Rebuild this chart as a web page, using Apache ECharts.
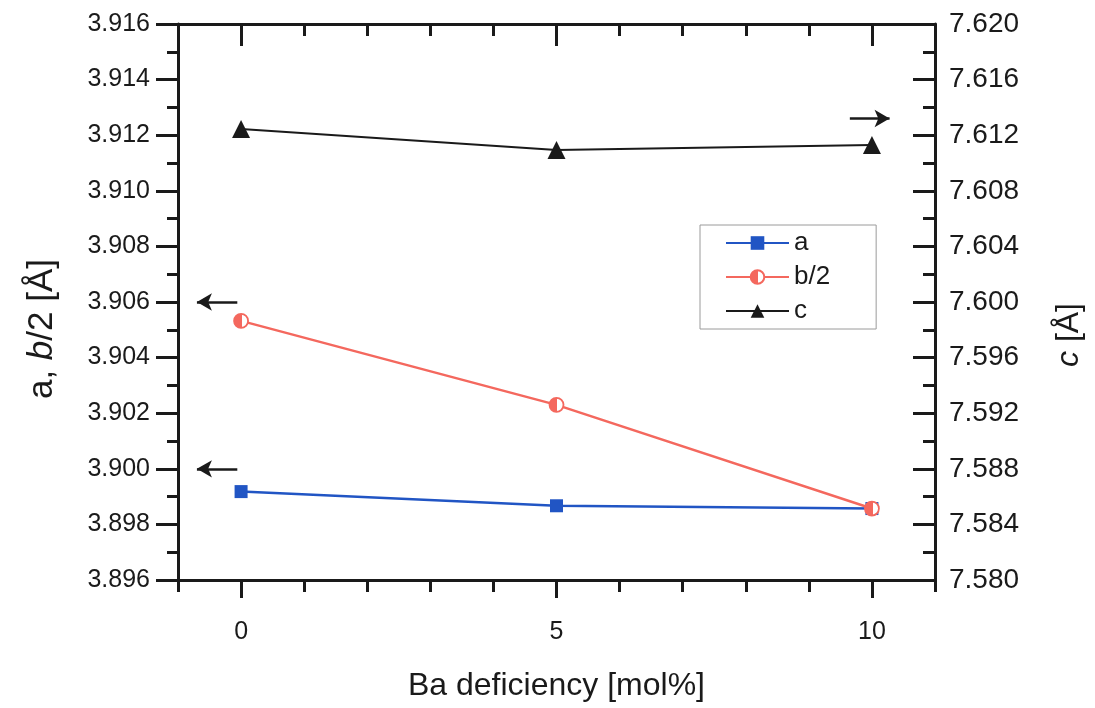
<!DOCTYPE html>
<html>
<head>
<meta charset="utf-8">
<script src="https://cdn.jsdelivr.net/npm/echarts@6/dist/echarts.min.js"></script>
<style>html,body{margin:0;padding:0;background:#fff}#c{width:1095px;height:708px}</style>
</head>
<body>
<div id="c"></div>
<script>
// Data
const baDeficiency = [0, 5, 10];
const aValues = [3.89918, 3.89867, 3.89857];
const b2Values = [3.90532, 3.90230, 3.89857];
const cValues = [7.61245, 7.61093, 7.61130];
const xMajorTicks = [0, 5, 10];
const xMinorTicks = [-1, 1, 2, 3, 4, 6, 7, 8, 9, 11];
// annotation arrows: [fromX, toX, y]
const leftArrows = [[-0.06, -0.70, 3.906], [-0.06, -0.70, 3.900]];
const rightArrows = [[9.65, 10.28, 7.6132]];

const FONT = 'Liberation Sans';
const INK = '#1a1a1a';
const BLUE = '#2155c4';
const RED = '#f4685e';

const chart = echarts.init(document.getElementById('c'));
const lineW = 3;

function xAx(pos, ticks, len, inside, showLine, showLabel, name) {
  return {
    type: 'value', position: pos, min: -1, max: 11, gridIndex: 0,
    axisLine: {show: showLine, onZero: false, lineStyle: {color: INK, width: lineW}},
    axisTick: {show: true, inside: inside, length: len, customValues: ticks, lineStyle: {color: INK, width: lineW}},
    axisLabel: {show: showLabel, customValues: xMajorTicks, margin: 40, fontSize: 25, color: INK, fontFamily: FONT},
    splitLine: {show: false},
    name: name || '', nameLocation: 'middle', nameGap: 90,
    nameTextStyle: {fontSize: 32, color: INK, fontFamily: FONT}
  };
}

function arrowLine(arr) {
  return arr.map(a => [{coord: [a[0], a[2]]}, {coord: [a[1], a[2]]}]);
}

const option = {
  animation: false,
  backgroundColor: '#fff',
  grid: {left: 178, right: 160, top: 24, bottom: 128, containLabel: false, outerBoundsMode: 'none'},
  xAxis: [
    xAx('bottom', xMajorTicks, 18, false, true, true, 'Ba deficiency [mol%]'),
    xAx('bottom', xMinorTicks, 12, false, false, false),
    xAx('top', xMajorTicks, 22, true, true, false),
    xAx('top', xMinorTicks, 12, true, false, false)
  ],
  yAxis: [
    {
      type: 'value', position: 'left', min: 3.896, max: 3.916, interval: 0.002,
      axisLine: {show: true, onZero: false, lineStyle: {color: INK, width: lineW}},
      axisTick: {show: true, inside: false, length: 22, lineStyle: {color: INK, width: lineW}},
      minorTick: {show: true, splitNumber: 2, length: 11, lineStyle: {color: INK, width: lineW}},
      axisLabel: {formatter: v => v.toFixed(3), fontSize: 25, color: INK, fontFamily: FONT, margin: 28},
      splitLine: {show: false},
      name: '{n|a, }{i|b}{n|/2 [Å]}', nameLocation: 'middle', nameGap: 118, nameRotate: 90,
      nameTextStyle: {
        fontSize: 35, color: INK, fontFamily: FONT, padding: [0, 54, 0, 0],
        rich: {
          n: {fontSize: 35, color: INK, fontFamily: FONT},
          i: {fontSize: 35, color: INK, fontFamily: FONT, fontStyle: 'italic'}
        }
      }
    },
    {
      type: 'value', position: 'right', min: 7.580, max: 7.620, interval: 0.004,
      axisLine: {show: true, onZero: false, lineStyle: {color: INK, width: lineW}},
      axisTick: {show: true, inside: true, length: 22, lineStyle: {color: INK, width: lineW}},
      minorTick: {show: true, splitNumber: 2, length: 12, lineStyle: {color: INK, width: lineW}},
      axisLabel: {formatter: v => v.toFixed(3), fontSize: 28, color: INK, fontFamily: FONT, margin: 14},
      splitLine: {show: false},
      name: '{i|c}{n| [Å]}', nameLocation: 'middle', nameGap: 118, nameRotate: 90,
      nameTextStyle: {
        fontSize: 32, color: INK, fontFamily: FONT, padding: [0, 66, 0, 0],
        rich: {
          n: {fontSize: 32, color: INK, fontFamily: FONT},
          i: {fontSize: 32, color: INK, fontFamily: FONT, fontStyle: 'italic'}
        }
      }
    }
  ],
  legend: {
    orient: 'vertical', left: 700, top: 225,
    padding: [5, 46, 5, 25],
    itemWidth: 63, itemHeight: 17, itemGap: 8,
    borderColor: '#9a9a9a', borderWidth: 1,
    textStyle: {fontSize: 26, color: INK, fontFamily: FONT},
    data: ['a', 'b/2', 'c']
  },
  series: [
    {
      name: 'a', type: 'line', xAxisIndex: 0, yAxisIndex: 0,
      data: baDeficiency.map((x, i) => [x, aValues[i]]),
      symbol: 'rect', symbolSize: 13,
      itemStyle: {color: BLUE},
      lineStyle: {color: BLUE, width: 2.5},
      markLine: {
        silent: true, symbol: ['none', 'arrow'], symbolSize: [13, 15],
        label: {show: false},
        lineStyle: {color: INK, width: 2.5, type: 'solid'},
        data: arrowLine(leftArrows)
      },
      z: 3
    },
    {
      name: 'b/2', type: 'line', xAxisIndex: 0, yAxisIndex: 0,
      data: baDeficiency.map((x, i) => [x, b2Values[i]]),
      symbol: 'circle', symbolSize: 14,
      itemStyle: {
        color: new echarts.graphic.LinearGradient(0, 0, 1, 0, [
          {offset: 0, color: RED}, {offset: 0.55, color: RED},
          {offset: 0.55, color: '#ffffff'}, {offset: 1, color: '#ffffff'}
        ]),
        borderColor: RED, borderWidth: 1.8
      },
      lineStyle: {color: RED, width: 2.5},
      z: 4
    },
    {
      name: 'c', type: 'line', xAxisIndex: 0, yAxisIndex: 1,
      data: baDeficiency.map((x, i) => [x, cValues[i]]),
      symbol: 'triangle', symbolSize: 18,
      itemStyle: {color: INK},
      lineStyle: {color: INK, width: 2},
      markLine: {
        silent: true, symbol: ['none', 'arrow'], symbolSize: [13, 15],
        label: {show: false},
        lineStyle: {color: INK, width: 2.5, type: 'solid'},
        data: arrowLine(rightArrows)
      },
      z: 3
    }
  ]
};
chart.setOption(option);
</script>
</body>
</html>
